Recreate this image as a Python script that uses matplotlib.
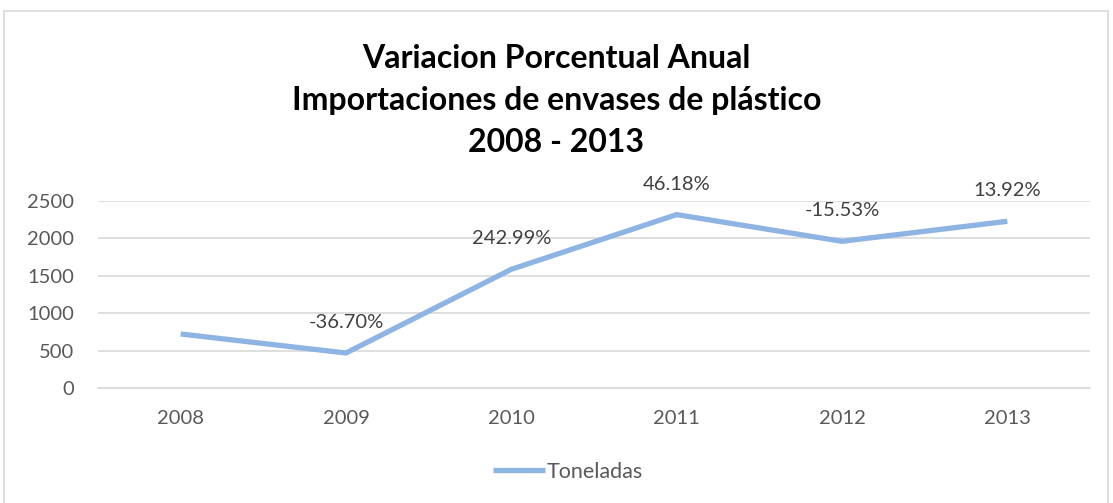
import matplotlib
matplotlib.use("Agg")
import matplotlib.pyplot as plt
from matplotlib.patches import Rectangle

# data
years = ['2008', '2009', '2010', '2011', '2012', '2013']
toneladas = [722, 468, 1587, 2318, 1961, 2229]
variacion = ['', '-36.70%', '242.99%', '46.18%', '-15.53%', '13.92%']
y_ticks = [0, 500, 1000, 1500, 2000, 2500]

title_lines = ['Variacion Porcentual Anual',
               'Importaciones de envases de plástico',
               '2008 - 2013']

LINE_COLOR = '#8EB4E3'
GRID_COLOR = '#D9D9D9'
TICK_COLOR = '#595959'
LABEL_COLOR = '#404040'

plt.rcParams['font.family'] = ['Lato', 'DejaVu Sans']

W, H = 1113, 503
fig = plt.figure(figsize=(W / 100, H / 100), dpi=100)
fig.patch.set_facecolor('white')

# outer chart border (bottom edge falls off the image)
fig.add_artist(Rectangle((4 / W, -0.05), 1104 / W, 1 - 11 / H + 0.05,
                         transform=fig.transFigure, fill=False,
                         edgecolor='#D9D9D9', linewidth=1.2))

ax = fig.add_axes([98 / W, 1 - 388 / H, (1090 - 98) / W, (388 - 201) / H])
x = list(range(len(years)))
line, = ax.plot(x, toneladas, color=LINE_COLOR, linewidth=3.8,
                solid_joinstyle='miter', solid_capstyle='butt', label='Toneladas')

for xi, yi, lab in zip(x, toneladas, variacion):
    if lab:
        ax.annotate(lab, (xi, yi), xytext=(0, 22), textcoords='offset points',
                    ha='center', va='center', fontsize=14.5, color=LABEL_COLOR)

ax.set_xlim(-0.5, len(years) - 0.5)
ax.set_ylim(0, 2500)
ax.set_yticks(y_ticks)
ax.set_yticklabels([str(v) for v in y_ticks])
ax.set_xticks(x)
ax.set_xticklabels(years)
ax.tick_params(axis='both', length=0, labelsize=14.5, labelcolor=TICK_COLOR)
ax.tick_params(axis='y', pad=17)
ax.tick_params(axis='x', pad=16)
ax.grid(axis='y', color=GRID_COLOR, linewidth=1.2)
ax.set_axisbelow(True)
for side in ['top', 'right', 'left']:
    ax.spines[side].set_visible(False)
ax.spines['bottom'].set_color(GRID_COLOR)
ax.spines['bottom'].set_linewidth(1.2)

# title, three lines
for i, t in enumerate(title_lines):
    fig.text(0.5, 1 - (58 + 42.5 * i) / H, t, ha='center', va='center',
             fontsize=23, fontweight='bold', color='black')

leg = fig.legend(handles=[line], loc='center', bbox_to_anchor=(568 / W, 1 - 472 / H),
                 frameon=False, fontsize=15.5, handlelength=2.4, handletextpad=0.1)
for txt in leg.get_texts():
    txt.set_color(TICK_COLOR)

fig.savefig('out.png', dpi=100, facecolor='white')
